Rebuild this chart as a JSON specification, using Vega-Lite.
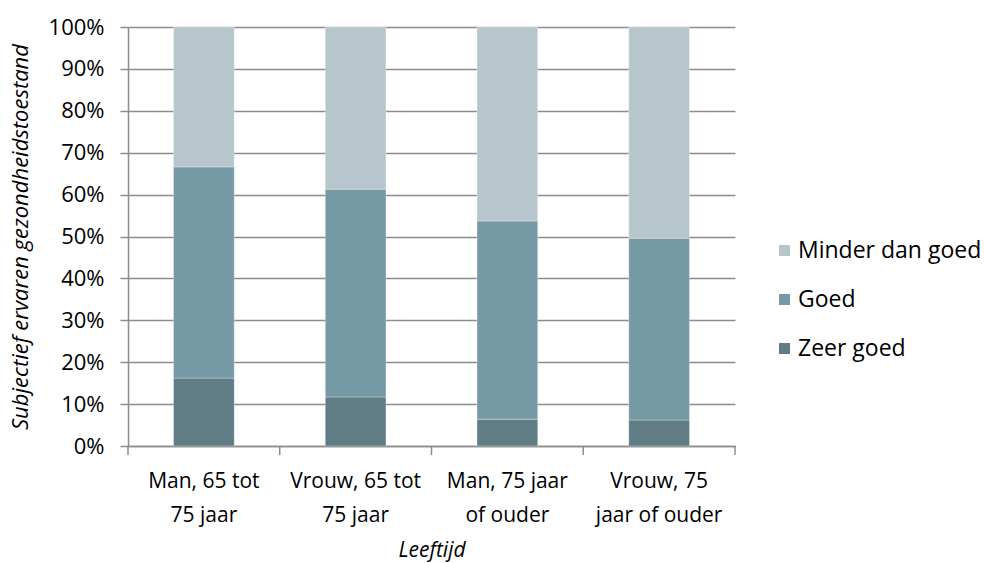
{
  "$schema": "https://vega.github.io/schema/vega-lite/v6.json",
  "width": 607,
  "height": 419,
  "autosize": {"type": "none"},
  "padding": {"left": 128, "top": 27, "right": 249, "bottom": 117},
  "background": "white",
  "config": {
    "font": "Open Sans",
    "view": {"stroke": null}
  },
  "data": {
    "values": [
      {"leeftijd": "Man, 65 tot 75 jaar", "categorie": "Zeer goed", "rang": 1, "pct": 16.2},
      {"leeftijd": "Man, 65 tot 75 jaar", "categorie": "Goed", "rang": 2, "pct": 50.4},
      {"leeftijd": "Man, 65 tot 75 jaar", "categorie": "Minder dan goed", "rang": 3, "pct": 33.4},
      {"leeftijd": "Vrouw, 65 tot 75 jaar", "categorie": "Zeer goed", "rang": 1, "pct": 11.7},
      {"leeftijd": "Vrouw, 65 tot 75 jaar", "categorie": "Goed", "rang": 2, "pct": 49.6},
      {"leeftijd": "Vrouw, 65 tot 75 jaar", "categorie": "Minder dan goed", "rang": 3, "pct": 38.7},
      {"leeftijd": "Man, 75 jaar of ouder", "categorie": "Zeer goed", "rang": 1, "pct": 6.4},
      {"leeftijd": "Man, 75 jaar of ouder", "categorie": "Goed", "rang": 2, "pct": 47.3},
      {"leeftijd": "Man, 75 jaar of ouder", "categorie": "Minder dan goed", "rang": 3, "pct": 46.3},
      {"leeftijd": "Vrouw, 75 jaar of ouder", "categorie": "Zeer goed", "rang": 1, "pct": 6.2},
      {"leeftijd": "Vrouw, 75 jaar of ouder", "categorie": "Goed", "rang": 2, "pct": 43.4},
      {"leeftijd": "Vrouw, 75 jaar of ouder", "categorie": "Minder dan goed", "rang": 3, "pct": 50.4}
    ]
  },
  "layer": [
    {
      "mark": {"type": "bar", "stroke": "white", "strokeWidth": 0.5, "strokeOpacity": 0.6},
      "encoding": {
        "x": {
          "field": "leeftijd",
          "type": "nominal",
          "sort": ["Man, 65 tot 75 jaar", "Vrouw, 65 tot 75 jaar", "Man, 75 jaar of ouder", "Vrouw, 75 jaar of ouder"],
          "scale": {"paddingInner": 0.6, "paddingOuter": 0.3},
          "axis": {
            "title": "Leeftijd",
            "titleFont": "Open Sans",
            "titleFontSize": 21,
            "titleFontStyle": "italic",
            "titleFontWeight": "normal",
            "titleColor": "black",
            "titlePadding": 14,
            "labelAngle": 0,
            "labelFont": "Open Sans",
            "labelFontSize": 21,
            "labelColor": "black",
            "labelPadding": 24,
            "labelLineHeight": 34,
            "labelExpr": "datum.value == 'Man, 65 tot 75 jaar' ? ['Man, 65 tot', '75 jaar'] : datum.value == 'Vrouw, 65 tot 75 jaar' ? ['Vrouw, 65 tot', '75 jaar'] : datum.value == 'Man, 75 jaar of ouder' ? ['Man, 75 jaar', 'of ouder'] : datum.value == 'Vrouw, 75 jaar of ouder' ? ['Vrouw, 75', 'jaar of ouder'] : ''",
            "ticks": false,
            "domainColor": "#8c8c8c",
            "domainWidth": 1.5,
            "grid": false
          }
        },
        "y": {
          "field": "pct",
          "type": "quantitative",
          "stack": "normalize",
          "scale": {"domain": [0, 1]},
          "axis": {
            "title": "Subjectief ervaren gezondheidstoestand",
            "titleFont": "Open Sans",
            "titleFontSize": 22,
            "titleFontStyle": "italic",
            "titleFontWeight": "normal",
            "titleColor": "black",
            "titlePadding": 16,
            "format": ".0%",
            "values": [0, 0.1, 0.2, 0.3, 0.4, 0.5, 0.6, 0.7, 0.8, 0.9, 1],
            "labelFont": "Open Sans",
            "labelFontSize": 22,
            "labelColor": "black",
            "labelPadding": 16,
            "tickSize": 8,
            "tickColor": "#8c8c8c",
            "tickWidth": 1.5,
            "domainColor": "#8c8c8c",
            "domainWidth": 1.5,
            "grid": true,
            "gridColor": "#8c8c8c",
            "gridWidth": 1.5
          }
        },
        "color": {
          "field": "categorie",
          "type": "nominal",
          "scale": {
            "domain": ["Minder dan goed", "Goed", "Zeer goed"],
            "range": ["#b7c6cc", "#759aa5", "#607d85"]
          },
          "legend": {
            "title": null,
            "orient": "none",
            "legendX": 645,
            "legendY": 212,
            "symbolType": "square",
            "symbolSize": 121,
            "symbolStrokeWidth": 0,
            "labelFont": "Open Sans",
            "labelFontSize": 23,
            "labelColor": "black",
            "labelOffset": 2,
            "labelLimit": 0,
            "rowPadding": 25
          }
        },
        "order": {"field": "rang", "type": "quantitative", "sort": "ascending"}
      }
    },
    {
      "transform": [{"filter": "datum.categorie == 'Goed'"}],
      "mark": {"type": "rule", "color": "#8c8c8c", "strokeWidth": 1.5},
      "encoding": {
        "x": {"field": "leeftijd", "type": "nominal", "sort": ["Man, 65 tot 75 jaar", "Vrouw, 65 tot 75 jaar", "Man, 75 jaar of ouder", "Vrouw, 75 jaar of ouder"], "bandPosition": -0.75},
        "y": {"datum": 0, "type": "quantitative"},
        "y2": {"datum": -0.0215}
      }
    },
    {
      "transform": [{"filter": "datum.categorie == 'Goed' && datum.leeftijd == 'Vrouw, 75 jaar of ouder'"}],
      "mark": {"type": "rule", "color": "#8c8c8c", "strokeWidth": 1.5},
      "encoding": {
        "x": {"field": "leeftijd", "type": "nominal", "sort": ["Man, 65 tot 75 jaar", "Vrouw, 65 tot 75 jaar", "Man, 75 jaar of ouder", "Vrouw, 75 jaar of ouder"], "bandPosition": 1.75},
        "y": {"datum": 0, "type": "quantitative"},
        "y2": {"datum": -0.0215}
      }
    }
  ]
}
